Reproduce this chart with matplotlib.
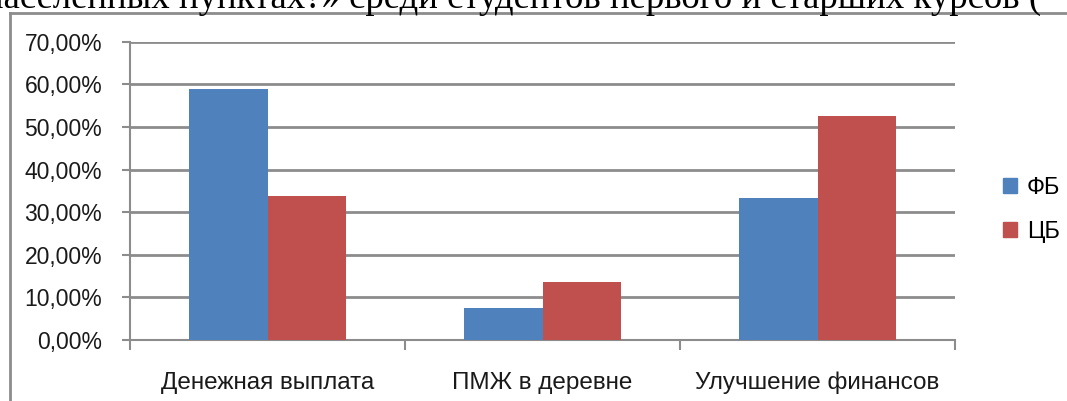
import matplotlib
matplotlib.use('Agg')
import matplotlib.pyplot as plt
from matplotlib.patches import Patch
from matplotlib.lines import Line2D
import numpy as np

# Data
categories = ['Денежная выплата', 'ПМЖ в деревне', 'Улучшение финансов']
series_names = ['ФБ', 'ЦБ']
fb_values = [0.588, 0.076, 0.333]
cb_values = [0.338, 0.135, 0.526]
colors = ['#4F81BD', '#C0504D']
y_ticks = [0.0, 0.1, 0.2, 0.3, 0.4, 0.5, 0.6, 0.7]
heading = 'населенных пунктах?» среди студентов первого и старших курсов ('

matplotlib.rc('font', family=['Liberation Sans', 'DejaVu Sans'], size=16)
grey = '#8c8c8c'

fig = plt.figure(figsize=(10.67, 4.01), dpi=100)
ax = fig.add_axes([130 / 1067, 1 - 340 / 401, 825 / 1067, 298.3 / 401])

x = np.arange(len(categories))
w = 0.284
ax.bar(x - w / 2, fb_values, w, color=colors[0], zorder=3)
ax.bar(x + w / 2, cb_values, w, color=colors[1], zorder=3)

ax.set_xlim(-0.5, len(categories) - 0.5)
ax.set_ylim(0, 0.7)
ax.set_yticks(y_ticks)
ax.set_yticklabels([('%.2f%%' % (v * 100)).replace('.', ',') for v in y_ticks])
ax.yaxis.grid(True, color=grey, linewidth=2, zorder=0)
ax.tick_params(axis='y', length=6, width=1.5, color=grey, pad=14,
               labelcolor='#1a1a1a', labelsize=16.5)

ax.set_xticks(x)
ax.set_xticklabels(categories)
ax.set_xticks(np.arange(len(categories) + 1) - 0.5, minor=True)
ax.tick_params(axis='x', which='major', length=0, pad=23,
               labelcolor='#1a1a1a', labelsize=17.5)
ax.tick_params(axis='x', which='minor', length=7, width=1.5, color=grey)

for side in ['top', 'right']:
    ax.spines[side].set_visible(False)
for side in ['left', 'bottom']:
    ax.spines[side].set_color(grey)
    ax.spines[side].set_linewidth(1.5)

handles = [Patch(color=c) for c in colors]
fig.legend(handles, series_names, loc='center left',
           bbox_to_anchor=(982 / 1067, 1 - 210 / 401), frameon=False,
           handlelength=0.6, handleheight=0.6, handletextpad=0.4,
           labelspacing=0.95, fontsize=17)

# outer chart frame, partly cut by the page
fig.add_artist(Line2D([9.5 / 1067, 1.0], [1 - 13 / 401, 1 - 13 / 401],
                      transform=fig.transFigure, color=grey, linewidth=2))
fig.add_artist(Line2D([9.5 / 1067, 9.5 / 1067], [0, 1 - 13 / 401],
                      transform=fig.transFigure, color=grey, linewidth=2))

# clipped line of the surrounding document
fig.text(-16 / 1067, 1 - 8 / 401, heading, family='Liberation Serif',
         fontsize=26.5, va='baseline', ha='left', color='black')

plt.savefig('out.png', dpi=100)
